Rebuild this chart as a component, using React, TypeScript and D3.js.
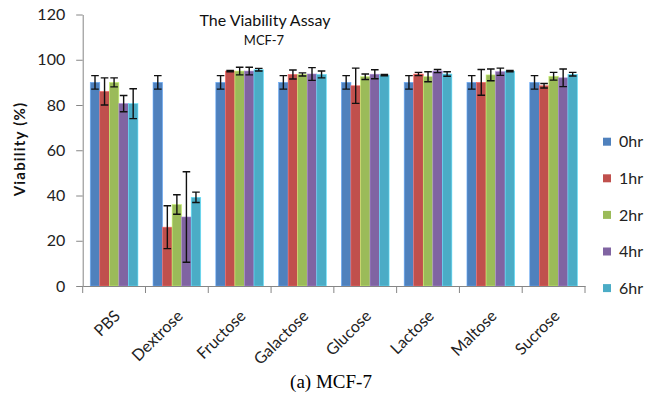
import { useEffect, useRef } from 'react';
import * as d3 from 'd3';

const categories = ['PBS', 'Dextrose', 'Fructose', 'Galactose', 'Glucose', 'Lactose', 'Maltose', 'Sucrose'];
const seriesNames = ['0hr', '1hr', '2hr', '4hr', '6hr'];
const colors = ['#4F81BD', '#C0504D', '#9BBB59', '#8064A2', '#4BACC6'];

const hr0 = [90, 90, 90, 90, 90, 90, 90, 90];
const hr1 = [86, 26, 95, 93.5, 88.5, 93.7, 90, 88.5];
const hr2 = [90, 36, 95, 93.5, 92.5, 92.5, 93.3, 92.7];
const hr4 = [80.6, 30.5, 95, 93.7, 93.6, 95, 94.7, 92];
const hr6 = [80.6, 39.2, 95.6, 93.5, 93.2, 93.7, 95, 93.6];

const err0 = [3, 3, 3, 3, 3, 3, 3, 3];
const err1 = [6, 9.5, 0.3, 2, 7.8, 0.7, 5.7, 1];
const err2 = [2, 4.3, 1.7, 0.7, 1.2, 2.2, 2.6, 1.7];
const err4 = [3.6, 20, 1.7, 2.8, 2, 0.7, 1.6, 3.9];
const err6 = [6.6, 2.3, 0.6, 1.5, 0.3, 1, 0.3, 0.8];

const yTicks = [0, 20, 40, 60, 80, 100, 120];

const App = () => {
  const svgRef = useRef<SVGSVGElement>(null);

  useEffect(() => {
    const width = 659;
    const height = 396;
    const values = [hr0, hr1, hr2, hr4, hr6];
    const errors = [err0, err1, err2, err4, err6];
    const font = 'Lato, "Open Sans", sans-serif';
    const axisColor = '#868686';

    const svg = d3.select(svgRef.current).attr('width', width).attr('height', height);
    svg.selectAll('*').remove();

    const x0 = d3.scaleBand().domain(categories).range([82.7, 585]);
    const x1 = d3
      .scaleBand()
      .domain(seriesNames)
      .range([x0.bandwidth() * 0.12, x0.bandwidth() * 0.88]);
    const y = d3.scaleLinear().domain([0, 120]).range([286, 14.5]);

    // bars
    const groups = svg
      .append('g')
      .selectAll('g')
      .data(categories)
      .join('g')
      .attr('transform', (d) => `translate(${x0(d)},0)`);

    seriesNames.forEach((s, si) => {
      groups
        .append('rect')
        .attr('x', x1(s))
        .attr('y', (_, ci) => y(values[si][ci]))
        .attr('width', x1.bandwidth())
        .attr('height', (_, ci) => y(0) - y(values[si][ci]))
        .attr('fill', colors[si])
        .attr('stroke', d3.color(colors[si]).brighter(0.8).toString())
        .attr('stroke-width', 0.6);
    });

    // error bars
    seriesNames.forEach((s, si) => {
      groups.each(function (_, ci) {
        const g = d3.select(this);
        const cx = x1(s) + x1.bandwidth() / 2;
        const v = values[si][ci];
        const e = errors[si][ci];
        const top = y(v + e);
        const bot = y(v - e);
        const path = d3.path();
        path.moveTo(cx, top);
        path.lineTo(cx, bot);
        path.moveTo(cx - 3.8, top);
        path.lineTo(cx + 3.8, top);
        path.moveTo(cx - 3.8, bot);
        path.lineTo(cx + 3.8, bot);
        g.append('path').attr('d', path.toString()).attr('stroke', '#111').attr('stroke-width', 1.4).attr('fill', 'none');
      });
    });

    // y axis
    const yAxis = svg
      .append('g')
      .attr('transform', 'translate(82.7,0)')
      .call(d3.axisLeft(y).tickValues(yTicks).tickSize(6.5).tickSizeOuter(0).tickPadding(11));
    yAxis.select('.domain').attr('stroke', axisColor);
    yAxis.selectAll('line').attr('stroke', axisColor);
    yAxis.selectAll('text').style('font-family', font).style('font-size', '16px').attr('fill', '#222');

    // x axis
    const xAxis = svg
      .append('g')
      .attr('transform', 'translate(0,286)')
      .call(d3.axisBottom(x0).tickSize(0).tickSizeOuter(0));
    xAxis.select('.domain').attr('stroke', axisColor);
    xAxis.selectAll('.tick line').remove();
    const bounds = categories.map((c) => x0(c)).concat([585]);
    xAxis
      .selectAll('.bound')
      .data(bounds)
      .join('line')
      .attr('x1', (d) => d)
      .attr('x2', (d) => d)
      .attr('y1', 0)
      .attr('y2', 7)
      .attr('stroke', axisColor);
    xAxis
      .selectAll('.tick text')
      .attr('text-anchor', 'end')
      .attr('y', 0)
      .attr('dy', 0)
      .attr('transform', 'translate(7,31) rotate(-45)')
      .style('font-family', font)
      .style('font-size', '16px')
      .attr('fill', '#222');

    // y title
    svg
      .append('text')
      .attr('transform', 'translate(25,149) rotate(-90)')
      .attr('text-anchor', 'middle')
      .style('font-family', font)
      .style('font-size', '15px')
      .style('font-weight', 'bold')
      .style('letter-spacing', '1.2px')
      .attr('fill', '#111')
      .text('Viability (%)');

    // titles
    svg
      .append('text')
      .attr('x', 265)
      .attr('y', 26)
      .attr('text-anchor', 'middle')
      .style('font-family', font)
      .style('font-size', '16px')
      .attr('fill', '#111')
      .text('The Viability Assay');
    svg
      .append('text')
      .attr('x', 264)
      .attr('y', 45)
      .attr('text-anchor', 'middle')
      .style('font-family', font)
      .style('font-size', '13px')
      .attr('fill', '#111')
      .text('MCF-7');

    // legend
    const legend = svg
      .append('g')
      .selectAll('g')
      .data(seriesNames)
      .join('g')
      .attr('transform', (_, i) => `translate(603,${141.7 + i * 36.6})`);
    legend
      .append('rect')
      .attr('x', 0)
      .attr('y', -4)
      .attr('width', 8)
      .attr('height', 8)
      .attr('fill', (_, i) => colors[i]);
    legend
      .append('text')
      .attr('x', 16)
      .attr('y', 0)
      .attr('dy', '0.36em')
      .style('font-family', font)
      .style('font-size', '16px')
      .attr('fill', '#222')
      .text((d) => d);

    // caption
    svg
      .append('text')
      .attr('x', 331)
      .attr('y', 388)
      .attr('text-anchor', 'middle')
      .style('font-family', '"Liberation Serif", serif')
      .style('font-size', '19px')
      .attr('fill', '#000')
      .text('(a) MCF-7');
  }, []);

  return (
    <div style={{ position: 'absolute', left: 0, top: 0 }}>
      <svg ref={svgRef}></svg>
    </div>
  );
};

export default App;
